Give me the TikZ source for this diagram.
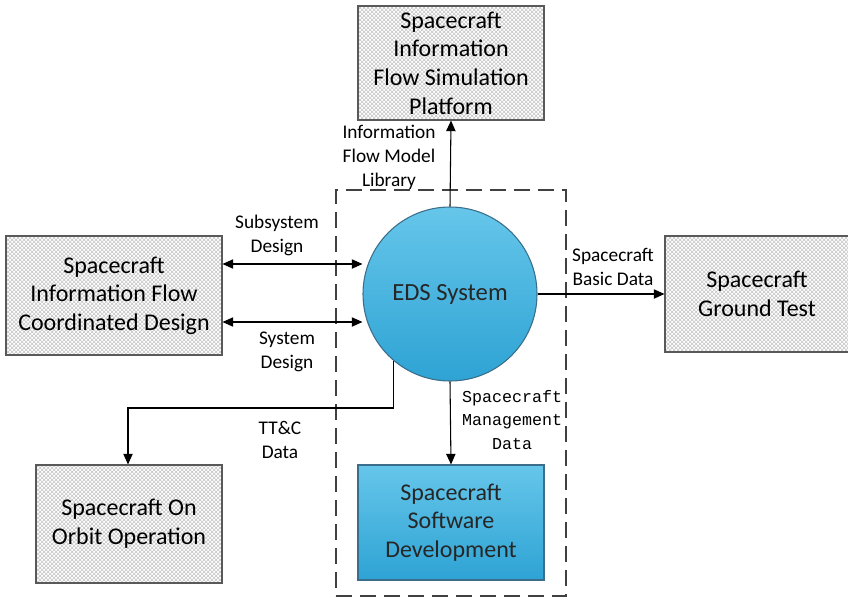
\documentclass[tikz,border=0pt]{standalone}
\usepackage{fontspec}
\setmainfont{Carlito}
\newfontfamily\monofnt{Liberation Mono}
\usetikzlibrary{arrows.meta,patterns}
\definecolor{hatch}{HTML}{C4C4C4}
\definecolor{blueA}{HTML}{66C6EA}
\definecolor{blueB}{HTML}{2EA3D4}
\definecolor{edgeblue}{HTML}{3A6E8A}
\begin{document}
\begin{tikzpicture}[x=0.75pt,y=-0.75pt,
  hbox/.style={draw=gray!70!black,line width=0.8pt,pattern=crosshatch,pattern color=hatch,align=center,inner sep=0pt,font=\fontsize{18}{21.5}\selectfont},
  lbl/.style={align=center,inner sep=0pt,font=\fontsize{14.5}{18}\selectfont},
  conn/.style={line width=0.8pt,-{Triangle[length=8pt,width=7pt]}},
  bconn/.style={line width=0.8pt,{Triangle[length=8pt,width=7pt]}-{Triangle[length=8pt,width=7pt]}}]
\useasboundingbox (0,0) rectangle (848,600);
\fill[white] (0,0) rectangle (848,600);
% dashed boundary
\node[draw=black!75,dash pattern=on 12pt off 6pt,line width=1.1pt,minimum width=230*0.75pt,minimum height=406*0.75pt,inner sep=0pt] (bound) at (451,393) {};
% boxes
\node[hbox,minimum width=186*0.75pt,minimum height=114*0.75pt] (top) at (451,63) {Spacecraft\\Information\\Flow Simulation\\Platform};
\node[hbox,minimum width=216*0.75pt,minimum height=119*0.75pt] (left) at (114,295.5) {Spacecraft\\Information Flow\\Coordinated Design};
\node[hbox,minimum width=184*0.75pt,minimum height=116*0.75pt] (right) at (757,294) {Spacecraft\\Ground Test};
\node[hbox,minimum width=186*0.75pt,minimum height=118*0.75pt] (orbit) at (129,524) {Spacecraft On\\Orbit Operation};
\node[draw=edgeblue,line width=0.8pt,top color=blueA,bottom color=blueB,align=center,inner sep=0pt,
  minimum width=186*0.75pt,minimum height=115*0.75pt,font=\fontsize{18}{21.5}\selectfont,text=black!85] (soft) at (451,522.5) {Spacecraft\\Software\\Development};
\node[circle,draw=edgeblue,line width=0.8pt,top color=blueA,bottom color=blueB,minimum size=174*0.75pt,inner sep=0pt,
  font=\fontsize{18.5}{22}\selectfont,text=black!85] (eds) at (450,294) {EDS System};
% connectors
\draw[conn] (eds.north) -- (top.south);
\draw[bconn] (left.east |- 0,264) -- (eds.west |- 0,264);
\draw[bconn] (left.east |- 0,322) -- (eds.west |- 0,322);
\draw[conn] (eds.east) -- (right.west |- eds.east);
\draw[conn] (eds.south) -- (soft.north);
\draw[conn] (eds.-130) |- (128,408) -- (orbit.north -| 128,0);
% labels
\node[lbl] (l1) at (389,157) {Information\\Flow Model\\Library};
\node[lbl] (l2) at (277,235) {Subsystem\\Design};
\node[lbl] (l3) at (287,352) {System\\Design};
\node[lbl] (l4) at (613,267) {Spacecraft\\Basic Data};
\node[lbl] (l5) at (280,440) {TT\&C\\Data};
\node[align=center,inner sep=0pt,font=\monofnt\fontsize{12.5}{17.5}\selectfont] (l6) at (512,420) {Spacecraft\\Management\\Data};
\end{tikzpicture}
\end{document}
